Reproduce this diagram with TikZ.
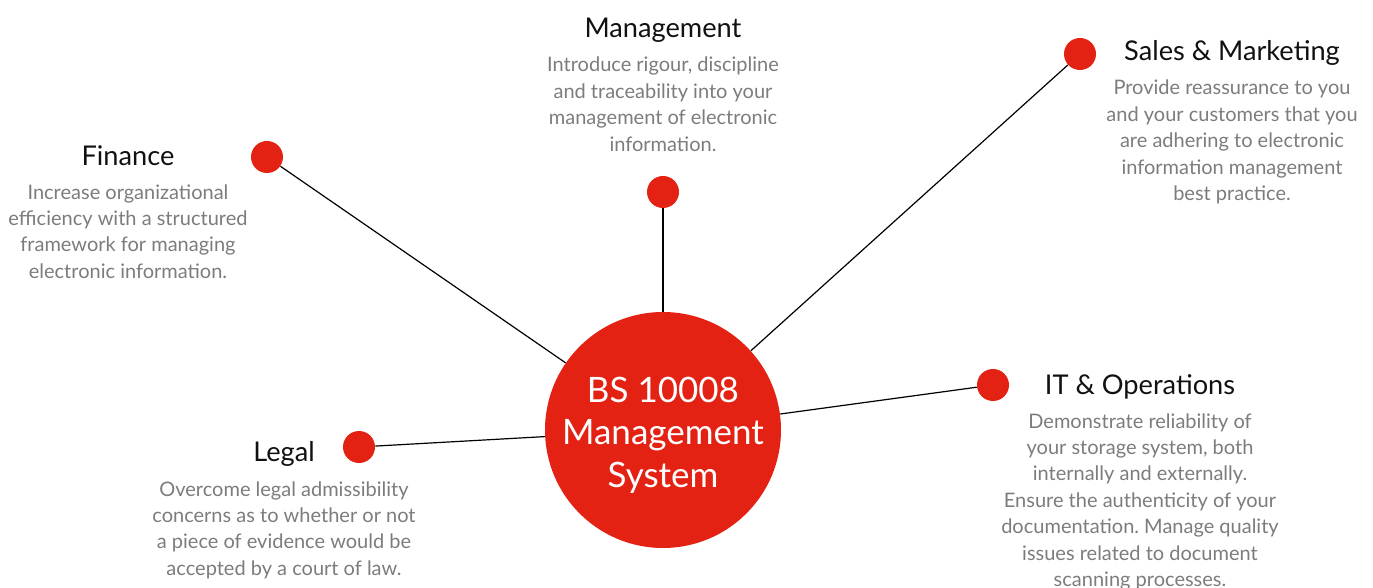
\documentclass[tikz,border=0pt]{standalone}
\usepackage{fontspec}
\setmainfont{Lato}
\frenchspacing
\definecolor{bsred}{HTML}{E32213}
\definecolor{bodygray}{HTML}{7C7C7C}
\definecolor{headblack}{HTML}{111111}
\begin{document}
\begin{tikzpicture}[x=0.5pt,y=-0.5pt,
  dot/.style={circle,fill=bsred,minimum size=16pt,inner sep=0pt},
  hub/.style={circle,fill=bsred,minimum size=118pt,inner sep=0pt},
  hubtext/.style={text=white,align=center,inner sep=0pt,
    font=\fontsize{17.5}{21.25}\selectfont\frenchspacing},
  head/.style={text=headblack,inner sep=0pt,anchor=base,font=\fontsize{13.6}{16}\selectfont},
  body/.style={text=bodygray,inner sep=0pt,anchor=base,align=center,font=\fontsize{10}{13.25}\selectfont\frenchspacing},
  link/.style={draw=black,line width=0.6pt}]
\useasboundingbox (0,0) rectangle (1373,588);
\node[hub] (c) at (663,430) {};
\node[hubtext] (ctext) at (663,435) {BS 10008\\Management\\System};
\node[dot] (fin) at (267,157) {};
\node[dot] (man) at (663,192) {};
\node[dot] (sal) at (1080,54) {};
\node[dot] (it) at (993,385) {};
\node[dot] (leg) at (359,447) {};
\draw[link] (fin) -- (c);
\draw[link] (man) -- (c);
\draw[link] (sal) -- (c);
\draw[link] (it) -- (c);
\draw[link] (leg) -- (c);
\node[head] (manh) at (663,38) {Management};
\node[body] (manb) at (663,151.5) {Introduce rigour, discipline\\and traceability into your\\management of electronic\\information.};
\node[head] (finh) at (128,166) {Finance};
\node[body] (finb) at (128,278.5) {Increase organizational\\efficiency with a structured\\framework for managing\\electronic information.};
\node[head] (salh) at (1232,61) {Sales \& Marketing};
\node[body] (salb) at (1232,201) {Provide reassurance to you\\and your customers that you\\are adhering to electronic\\information management\\best practice.};
\node[head] (ith) at (1140,395) {IT \& Operations};
\node[body] (itb) at (1140,587) {Demonstrate reliability of\\your storage system, both\\internally and externally.\\Ensure the authenticity of your\\documentation. Manage quality\\issues related to document\\scanning processes.};
\node[head] (legh) at (284,462) {Legal};
\node[body] (legb) at (284,575.5) {Overcome legal admissibility\\concerns as to whether or not\\a piece of evidence would be\\accepted by a court of law.};
\end{tikzpicture}
\end{document}
